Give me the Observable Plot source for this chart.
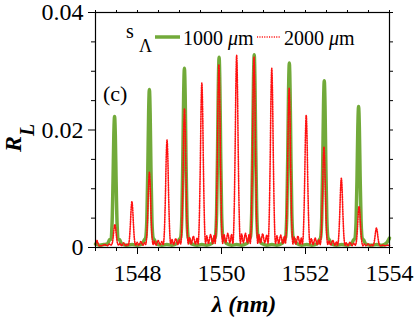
<!DOCTYPE html>
<html><head><meta charset="utf-8">
<script src="https://cdn.jsdelivr.net/npm/d3@7"></script>
<script src="https://cdn.jsdelivr.net/npm/@observablehq/plot@0.6"></script>
<style>
body{margin:0;background:#fff}
svg{display:block}
svg text{font-family:"Liberation Serif","Times New Roman",serif !important}
</style>
</head><body><div id="chart"></div>
<script>
// Grating length 1000 µm: [wavelength nm, R_L]
const series1000 = [
[1547.00,0.0006],[1547.10,0.0004],[1547.20,0.0005],[1547.284,0.0006],[1547.334,0.0013],[1547.364,0.0014],[1547.394,0.0040],[1547.417,0.0112],[1547.436,0.0190],[1547.454,0.0223],[1547.472,0.0190],[1547.491,0.0112],[1547.514,0.0040],[1547.544,0.0014],[1547.574,0.0013],[1547.624,0.0006],
[1547.75,0.0004],[1547.87,0.0005],[1547.99,0.0004],
[1548.113,0.0006],[1548.163,0.0013],[1548.193,0.0016],[1548.223,0.0048],[1548.246,0.0135],[1548.265,0.0229],[1548.283,0.0269],[1548.301,0.0229],[1548.320,0.0135],[1548.343,0.0048],[1548.373,0.0016],[1548.403,0.0013],[1548.453,0.0006],
[1548.58,0.0004],[1548.70,0.0005],[1548.82,0.0004],
[1548.947,0.0007],[1548.997,0.0014],[1549.027,0.0017],[1549.057,0.0055],[1549.080,0.0153],[1549.099,0.0259],[1549.117,0.0305],[1549.135,0.0259],[1549.154,0.0153],[1549.177,0.0055],[1549.207,0.0017],[1549.237,0.0013],[1549.287,0.0006],
[1549.42,0.0004],[1549.53,0.0005],[1549.65,0.0004],
[1549.773,0.0007],[1549.823,0.0015],[1549.853,0.0018],[1549.883,0.0058],[1549.906,0.0162],[1549.925,0.0275],[1549.943,0.0324],[1549.961,0.0275],[1549.980,0.0162],[1550.003,0.0058],[1550.033,0.0018],[1550.063,0.0014],[1550.113,0.0007],
[1550.24,0.0004],[1550.36,0.0005],[1550.48,0.0004],
[1550.609,0.0007],[1550.659,0.0015],[1550.689,0.0018],[1550.719,0.0059],[1550.742,0.0164],[1550.761,0.0279],[1550.779,0.0328],[1550.797,0.0279],[1550.816,0.0164],[1550.839,0.0059],[1550.869,0.0018],[1550.899,0.0015],[1550.949,0.0007],
[1551.08,0.0004],[1551.20,0.0005],[1551.32,0.0004],
[1551.445,0.0007],[1551.495,0.0014],[1551.525,0.0017],[1551.555,0.0057],[1551.578,0.0157],[1551.597,0.0267],[1551.615,0.0314],[1551.633,0.0267],[1551.652,0.0157],[1551.675,0.0057],[1551.705,0.0017],[1551.735,0.0014],[1551.785,0.0007],
[1551.91,0.0004],[1552.03,0.0005],[1552.15,0.0004],
[1552.277,0.0006],[1552.327,0.0013],[1552.357,0.0016],[1552.387,0.0051],[1552.410,0.0142],[1552.429,0.0241],[1552.447,0.0284],[1552.465,0.0241],[1552.484,0.0142],[1552.507,0.0051],[1552.537,0.0016],[1552.567,0.0013],[1552.617,0.0006],
[1552.74,0.0004],[1552.86,0.0005],[1552.98,0.0004],
[1553.094,0.0006],[1553.144,0.0013],[1553.174,0.0015],[1553.204,0.0043],[1553.227,0.0120],[1553.246,0.0204],[1553.264,0.0240],[1553.282,0.0204],[1553.301,0.0120],[1553.324,0.0043],[1553.354,0.0015],[1553.384,0.0013],[1553.434,0.0006],
[1553.56,0.0004],[1553.70,0.0005],[1553.82,0.0004],[1553.92,0.0007],[1553.97,0.0012],[1554.00,0.0016]
];
// Grating length 2000 µm: [wavelength nm, R_L]
const series2000 = [
[1547.00,0.0004],[1547.02,0.0010],[1547.036,0.0012],[1547.055,0.0008],[1547.09,0.0003],
[1547.15,0.0003],[1547.22,0.0005],[1547.28,0.0003],[1547.33,0.0006],[1547.37,0.0004],
[1547.401,0.0008],[1547.424,0.0020],[1547.443,0.0033],[1547.461,0.0039],[1547.479,0.0033],[1547.498,0.0020],[1547.521,0.0008],[1547.551,0.0004],
[1547.58,0.0007],[1547.62,0.0003],[1547.67,0.0008],[1547.72,0.0003],[1547.76,0.0006],[1547.78,0.0004],
[1547.807,0.0014],[1547.830,0.0039],[1547.849,0.0066],[1547.867,0.0078],[1547.885,0.0066],[1547.904,0.0039],[1547.927,0.0014],[1547.957,0.0004],
[1547.99,0.0009],[1548.03,0.0004],[1548.08,0.0010],[1548.13,0.0004],[1548.17,0.0008],[1548.193,0.0005],
[1548.223,0.0023],[1548.246,0.0064],[1548.265,0.0109],[1548.283,0.0128],[1548.301,0.0109],[1548.320,0.0064],[1548.343,0.0023],[1548.373,0.0005],
[1548.40,0.0011],[1548.44,0.0004],[1548.49,0.0012],[1548.54,0.0005],[1548.58,0.0010],[1548.613,0.0005],
[1548.643,0.0033],[1548.666,0.0092],[1548.685,0.0156],[1548.703,0.0183],[1548.721,0.0156],[1548.740,0.0092],[1548.763,0.0033],[1548.793,0.0006],
[1548.82,0.0014],[1548.86,0.0005],[1548.91,0.0015],[1548.96,0.0005],[1549.00,0.0013],[1549.029,0.0006],
[1549.059,0.0042],[1549.082,0.0118],[1549.101,0.0201],[1549.119,0.0236],[1549.137,0.0201],[1549.156,0.0118],[1549.179,0.0042],[1549.209,0.0006],
[1549.24,0.0017],[1549.28,0.0006],[1549.33,0.0019],[1549.38,0.0006],[1549.42,0.0016],[1549.442,0.0006],
[1549.472,0.0050],[1549.495,0.0140],[1549.514,0.0238],[1549.532,0.0280],[1549.550,0.0238],[1549.569,0.0140],[1549.592,0.0050],[1549.622,0.0007],
[1549.65,0.0020],[1549.69,0.0007],[1549.74,0.0022],[1549.79,0.0007],[1549.83,0.0021],[1549.848,0.0007],
[1549.878,0.0056],[1549.901,0.0156],[1549.920,0.0264],[1549.938,0.0311],[1549.956,0.0264],[1549.975,0.0156],[1549.998,0.0056],[1550.028,0.0007],
[1550.06,0.0022],[1550.10,0.0008],[1550.15,0.0024],[1550.20,0.0008],[1550.24,0.0022],[1550.271,0.0007],
[1550.301,0.0059],[1550.324,0.0164],[1550.343,0.0278],[1550.361,0.0327],[1550.379,0.0278],[1550.398,0.0164],[1550.421,0.0059],[1550.451,0.0007],
[1550.48,0.0023],[1550.52,0.0008],[1550.57,0.0024],[1550.62,0.0008],[1550.66,0.0022],[1550.684,0.0007],
[1550.714,0.0058],[1550.737,0.0162],[1550.756,0.0275],[1550.774,0.0324],[1550.792,0.0275],[1550.811,0.0162],[1550.834,0.0058],[1550.864,0.0007],
[1550.89,0.0022],[1550.93,0.0008],[1550.98,0.0023],[1551.03,0.0008],[1551.08,0.0021],[1551.107,0.0007],
[1551.137,0.0055],[1551.160,0.0153],[1551.179,0.0259],[1551.197,0.0305],[1551.215,0.0259],[1551.234,0.0153],[1551.257,0.0055],[1551.287,0.0007],
[1551.32,0.0020],[1551.36,0.0007],[1551.41,0.0021],[1551.46,0.0007],[1551.50,0.0019],[1551.521,0.0007],
[1551.551,0.0049],[1551.574,0.0136],[1551.593,0.0230],[1551.611,0.0271],[1551.629,0.0230],[1551.648,0.0136],[1551.671,0.0049],[1551.701,0.0006],
[1551.73,0.0018],[1551.77,0.0006],[1551.82,0.0019],[1551.87,0.0006],[1551.90,0.0016],[1551.927,0.0006],
[1551.957,0.0041],[1551.980,0.0113],[1551.999,0.0191],[1552.017,0.0225],[1552.035,0.0191],[1552.054,0.0113],[1552.077,0.0041],[1552.107,0.0006],
[1552.14,0.0015],[1552.18,0.0005],[1552.23,0.0016],[1552.28,0.0005],[1552.32,0.0013],[1552.350,0.0005],
[1552.380,0.0031],[1552.403,0.0086],[1552.422,0.0145],[1552.440,0.0171],[1552.458,0.0145],[1552.477,0.0086],[1552.500,0.0031],[1552.530,0.0005],
[1552.56,0.0011],[1552.60,0.0004],[1552.65,0.0012],[1552.70,0.0004],[1552.74,0.0010],[1552.763,0.0004],
[1552.793,0.0021],[1552.816,0.0059],[1552.835,0.0100],[1552.853,0.0118],[1552.871,0.0100],[1552.890,0.0059],[1552.913,0.0021],[1552.943,0.0004],
[1552.97,0.0008],[1553.01,0.0003],[1553.06,0.0009],[1553.11,0.0003],[1553.15,0.0007],[1553.186,0.0004],
[1553.216,0.0013],[1553.239,0.0035],[1553.258,0.0060],[1553.276,0.0070],[1553.294,0.0060],[1553.313,0.0035],[1553.336,0.0013],[1553.366,0.0003],
[1553.40,0.0006],[1553.44,0.0003],[1553.49,0.0006],[1553.54,0.0003],[1553.58,0.0005],[1553.599,0.0003],
[1553.629,0.0007],[1553.652,0.0017],[1553.671,0.0028],[1553.689,0.0033],[1553.707,0.0028],[1553.726,0.0017],[1553.749,0.0007],[1553.779,0.0003],
[1553.83,0.0004],[1553.90,0.0003],[1553.96,0.0004],[1554.00,0.0003]
];
const xMajorTicks = [1548, 1550, 1552, 1554];
const xMinorTicks = [1547, 1547.5, 1548.5, 1549, 1549.5, 1550.5, 1551, 1551.5, 1552.5, 1553, 1553.5];
const yMajorTicks = [0, 0.02, 0.04];
const yMinorTicks = [0.005, 0.01, 0.015, 0.025, 0.03, 0.035];
const legendNumbers = ["1000", "2000"];
const panelLabel = "(c)";

const serif = "'Liberation Serif','Times New Roman',serif";
const green = "#72aa3a", red = "#ff1010";
const blank = () => "";

const chart = Plot.plot({
  width: 415, height: 323,
  marginLeft: 95, marginRight: 26, marginTop: 12, marginBottom: 76,
  style: {fontFamily: serif, background: "white", overflow: "visible"},
  x: {domain: [1547, 1554]},
  y: {domain: [0, 0.04]},
  marks: [
    Plot.line(series1000, {x: d => d[0], y: d => d[1], stroke: green, strokeWidth: 3.5, curve: "monotone-x", strokeLinejoin: "round"}),
    Plot.line(series2000, {x: d => d[0], y: d => d[1], stroke: red, strokeWidth: 1.6, strokeDasharray: "1.1,1.3", curve: "monotone-x"}),
    Plot.frame({stroke: "black", strokeWidth: 1.2}),
    Plot.axisY({ticks: yMajorTicks, anchor: "left", tickSize: 7, tickPadding: 5, fontSize: 24, label: null,
      tickFormat: d => d === 0 ? "0" : d3.format(".2f")(d)}),
    Plot.axisY({ticks: yMinorTicks, anchor: "left", tickSize: 4, tickFormat: blank, label: null}),
    Plot.axisY({ticks: [...yMajorTicks, ...yMinorTicks], anchor: "right", tickSize: 3, tickFormat: blank, label: null}),
    Plot.axisX({ticks: xMajorTicks, anchor: "bottom", tickSize: 7, tickPadding: 9, fontSize: 24, label: null, tickFormat: d => String(d)}),
    Plot.axisX({ticks: xMinorTicks, anchor: "bottom", tickSize: 4, tickFormat: blank, label: null}),
    Plot.axisX({ticks: [...xMajorTicks, ...xMinorTicks], anchor: "top", tickSize: 3, tickFormat: blank, label: null})
  ]
});
document.getElementById("chart").appendChild(chart);

const svg = d3.select(chart);
const ann = svg.append("g").attr("fill", "black").attr("text-anchor", "start");

// x axis title
ann.append("text").attr("x", 244).attr("y", 312).attr("text-anchor", "middle")
  .attr("font-size", 24).attr("font-weight", "bold").attr("font-style", "italic").text("λ (nm)");

// y axis title R_L
const yt = ann.append("text").attr("transform", "translate(21,152) rotate(-90)").attr("text-anchor", "start")
  .attr("font-size", 24).attr("font-weight", "bold").attr("font-style", "italic");
yt.append("tspan").text("R");
yt.append("tspan").attr("font-size", 20).attr("dy", 13).text("L");

// panel label
ann.append("text").attr("x", 103).attr("y", 101).attr("font-size", 22).text(panelLabel);

// legend
ann.append("text").attr("x", 126).attr("y", 38).attr("font-size", 20).text("s");
ann.append("text").attr("x", 139).attr("y", 52).attr("font-size", 18).text("Λ");
ann.append("line").attr("x1", 155).attr("x2", 180).attr("y1", 37).attr("y2", 37)
  .attr("stroke", green).attr("stroke-width", 3.5);
const l1 = ann.append("text").attr("x", 183).attr("y", 45).attr("font-size", 20);
l1.append("tspan").text(legendNumbers[0] + " ");
l1.append("tspan").attr("font-style", "italic").text("μ");
l1.append("tspan").text("m");
ann.append("line").attr("x1", 257).attr("x2", 281).attr("y1", 37).attr("y2", 37)
  .attr("stroke", red).attr("stroke-width", 1.6).attr("stroke-dasharray", "1.1,1.3");
const l2 = ann.append("text").attr("x", 284).attr("y", 45).attr("font-size", 20);
l2.append("tspan").text(legendNumbers[1] + " ");
l2.append("tspan").attr("font-style", "italic").text("μ");
l2.append("tspan").text("m");
</script>
</body></html>
